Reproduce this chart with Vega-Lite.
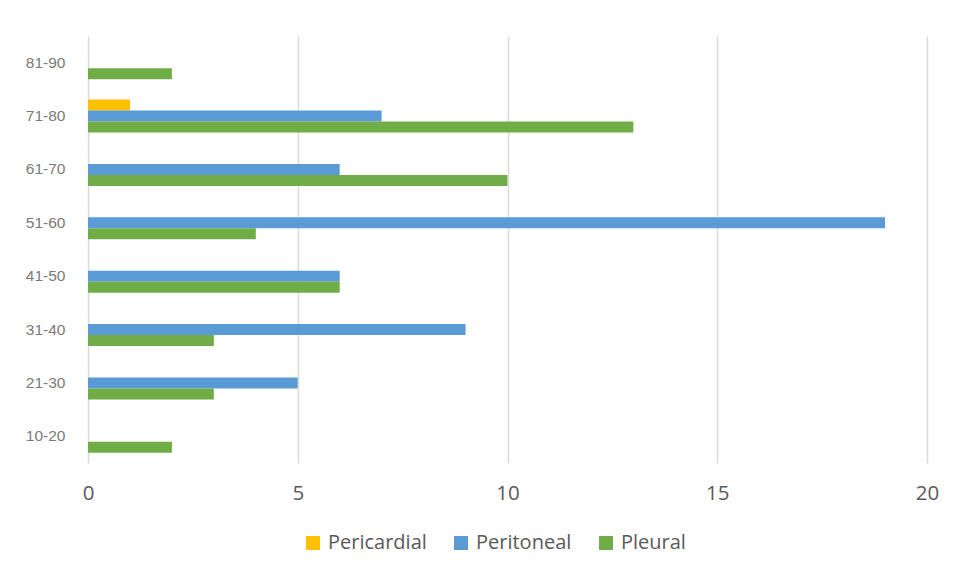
{
  "$schema": "https://vega.github.io/schema/vega-lite/v6.json",
  "autosize": {"type": "none"},
  "padding": {"left": 88, "top": 36, "right": 30, "bottom": 125},
  "width": 839,
  "height": 427,
  "background": "white",
  "config": {
    "view": {"stroke": null},
    "font": "Open Sans"
  },
  "data": {
    "values": [
      {"age": "81-90", "type": "Pleural", "count": 2},
      {"age": "71-80", "type": "Pericardial", "count": 1},
      {"age": "71-80", "type": "Peritoneal", "count": 7},
      {"age": "71-80", "type": "Pleural", "count": 13},
      {"age": "61-70", "type": "Peritoneal", "count": 6},
      {"age": "61-70", "type": "Pleural", "count": 10},
      {"age": "51-60", "type": "Peritoneal", "count": 19},
      {"age": "51-60", "type": "Pleural", "count": 4},
      {"age": "41-50", "type": "Peritoneal", "count": 6},
      {"age": "41-50", "type": "Pleural", "count": 6},
      {"age": "31-40", "type": "Peritoneal", "count": 9},
      {"age": "31-40", "type": "Pleural", "count": 3},
      {"age": "21-30", "type": "Peritoneal", "count": 5},
      {"age": "21-30", "type": "Pleural", "count": 3},
      {"age": "10-20", "type": "Pleural", "count": 2}
    ]
  },
  "mark": {"type": "bar"},
  "encoding": {
    "y": {
      "field": "age",
      "type": "nominal",
      "sort": ["81-90", "71-80", "61-70", "51-60", "41-50", "31-40", "21-30", "10-20"],
      "scale": {"paddingInner": 0.382, "paddingOuter": 0.191},
      "axis": {
        "title": null,
        "domain": false,
        "ticks": false,
        "labelPadding": 23,
        "labelFontSize": 15.5,
        "labelColor": "#7a7a7a",
        "labelFont": "Liberation Sans"
      }
    },
    "yOffset": {
      "field": "type",
      "type": "nominal",
      "sort": ["Pericardial", "Peritoneal", "Pleural"],
      "scale": {"paddingInner": 0, "paddingOuter": 0}
    },
    "x": {
      "field": "count",
      "type": "quantitative",
      "scale": {"domain": [0, 20], "nice": false},
      "axis": {
        "title": null,
        "values": [0, 5, 10, 15, 20],
        "domain": false,
        "ticks": false,
        "labelFlush": false,
        "labelPadding": 20,
        "labelFontSize": 20.5,
        "labelColor": "#595959",
        "labelFont": "Open Sans",
        "grid": true,
        "gridColor": "#d9d9d9",
        "gridWidth": 1.5
      }
    },
    "color": {
      "field": "type",
      "type": "nominal",
      "sort": ["Pericardial", "Peritoneal", "Pleural"],
      "scale": {
        "domain": ["Pericardial", "Peritoneal", "Pleural"],
        "range": ["#FFC000", "#5B9BD5", "#70AD47"]
      },
      "legend": {
        "title": null,
        "orient": "none",
        "legendX": 215,
        "legendY": 497,
        "direction": "horizontal",
        "symbolType": "square",
        "symbolSize": 196,
        "symbolStrokeWidth": 0,
        "labelFontSize": 20,
        "labelColor": "#595959",
        "labelFont": "Open Sans",
        "labelOffset": 5,
        "columnPadding": 24
      }
    }
  }
}
